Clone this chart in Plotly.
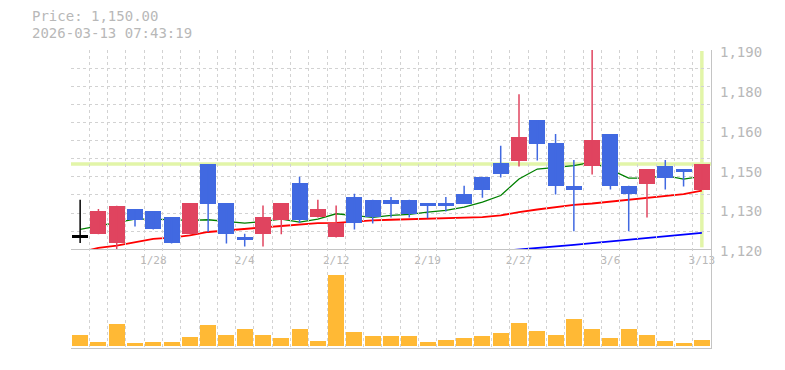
import plotly.graph_objects as go

# ---------------- data ----------------
dates = ["2026-01-22", "2026-01-23", "2026-01-26", "2026-01-27", "2026-01-28",
         "2026-01-29", "2026-01-30", "2026-02-02", "2026-02-03", "2026-02-04",
         "2026-02-05", "2026-02-06", "2026-02-09", "2026-02-10", "2026-02-12",
         "2026-02-13", "2026-02-16", "2026-02-17", "2026-02-18", "2026-02-19",
         "2026-02-20", "2026-02-24", "2026-02-25", "2026-02-26", "2026-02-27",
         "2026-03-02", "2026-03-03", "2026-03-04", "2026-03-05", "2026-03-06",
         "2026-03-09", "2026-03-10", "2026-03-11", "2026-03-12", "2026-03-13"]

open_ = [1124.3, 1125.3, 1122.1, 1134.2, 1133.5, 1131.4, 1125.3, 1150.0, 1136.3, 1124.4,
         1125.3, 1130.2, 1143.3, 1131.2, 1124.2, 1138.4, 1137.4, 1137.4, 1137.4, 1136.3,
         1136.3, 1139.5, 1145.5, 1150.3, 1151.2, 1165.4, 1157.3, 1142.3, 1149.1, 1160.5,
         1142.3, 1143.1, 1149.3, 1148.2, 1141.0]
high = [1137.4, 1134.2, 1135.3, 1134.2, 1133.5, 1131.4, 1136.3, 1150.0, 1136.3, 1125.5,
        1135.4, 1136.3, 1145.5, 1137.4, 1135.4, 1139.5, 1137.4, 1138.4, 1137.4, 1136.3,
        1138.4, 1142.3, 1145.5, 1156.4, 1174.5, 1165.4, 1160.5, 1151.4, 1190.0, 1160.5,
        1142.3, 1148.2, 1151.4, 1148.2, 1150.0]
low = [1122.2, 1125.3, 1120.0, 1128.0, 1127.0, 1122.1, 1125.3, 1126.1, 1122.1, 1121.0,
       1121.0, 1125.3, 1129.3, 1131.2, 1124.2, 1127.0, 1129.1, 1131.2, 1131.2, 1130.9,
       1133.3, 1136.1, 1138.1, 1145.2, 1149.1, 1151.2, 1139.3, 1126.4, 1146.3, 1141.0,
       1126.4, 1131.2, 1141.0, 1142.1, 1141.0]
close = [1124.3, 1133.5, 1135.3, 1130.2, 1127.0, 1122.1, 1136.3, 1136.1, 1125.3, 1123.2,
         1131.4, 1136.3, 1130.2, 1134.2, 1129.3, 1129.1, 1131.2, 1136.1, 1132.3, 1135.1,
         1135.1, 1136.1, 1141.0, 1146.3, 1159.4, 1157.1, 1142.1, 1141.0, 1158.4, 1142.1,
         1139.3, 1148.2, 1145.2, 1147.3, 1150.0]

volume = [11, 4, 22, 3, 4, 4, 9, 21, 11, 17,
          11, 8, 17, 5, 71, 14, 10, 10, 10, 4,
          6, 8, 10, 13, 23, 15, 11, 27, 17, 8,
          17, 11, 5, 3, 6]

ma_short = [1127.0, 1128.2, 1129.2, 1130.6, 1130.6, 1130.4, 1130.2, 1130.4, 1129.8, 1129.2,
            1129.8, 1130.6, 1129.6, 1130.6, 1132.5, 1131.9, 1131.2, 1131.9, 1132.3, 1133.1,
            1133.7, 1134.8, 1136.6, 1138.9, 1144.7, 1148.2, 1148.8, 1149.4, 1150.6, 1148.0,
            1145.0, 1145.0, 1145.9, 1144.7, 1145.6]
ma_mid = [1119.0, 1120.5, 1121.3, 1122.6, 1123.7, 1124.1, 1124.9, 1126.1, 1126.7, 1127.1,
          1127.7, 1128.2, 1128.6, 1129.2, 1129.3, 1129.8, 1130.2, 1130.4, 1130.6, 1130.8,
          1130.8, 1131.0, 1131.3, 1131.9, 1133.1, 1134.0, 1134.8, 1135.6, 1136.1, 1136.8,
          1137.5, 1138.0, 1138.7, 1139.4, 1140.6]
ma_long = [None] * 23 + [1119.4, 1119.9, 1120.4, 1121.0, 1121.6, 1122.2, 1122.8,
                         1123.4, 1124.0, 1124.4, 1125.1, 1125.8]

tick_dates = ["2026-01-28", "2026-02-04", "2026-02-12", "2026-02-19",
              "2026-02-27", "2026-03-06", "2026-03-13"]
tick_labels = ["1/28", "2/4", "2/12", "2/19", "2/27", "3/6", "3/13"]

price_tick_vals = [1120, 1134, 1148, 1162, 1176, 1190]
price_tick_text = ["1,120", "1,130", "1,150", "1,160", "1,180", "1,190"]
price_range = [1120, 1190]
timestamp = "2026-03-13 07:43:19"

# ---------------- styles ----------------
UP = "#E0445F"
DOWN = "#4169E1"
EVEN = "#000000"
VOL = "#FFB935"
CUR = "#E2F5A8"
GRID = "#d2d2d2"
AXIS = "#c4c4c4"
TXT = "#b8b8b8"
FONT = "DejaVu Sans Mono"

colors = []
for o, c in zip(open_, close):
    colors.append(UP if c > o else (DOWN if c < o else EVEN))

body_base = [min(o, c) for o, c in zip(open_, close)]
body_h = [max(abs(c - o), 0.6) for o, c in zip(open_, close)]

fig = go.Figure()

# full-height helper subplot that only carries the vertical grid
fig.add_trace(go.Scatter(x=dates, y=[None] * len(dates), mode="lines",
                         xaxis="x", yaxis="y4", hoverinfo="skip"))

# moving averages (base subplot, beneath candles)
fig.add_trace(go.Scatter(x=dates, y=ma_short, mode="lines", line=dict(color="#008000", width=1.3),
                         xaxis="x", yaxis="y", hoverinfo="skip"))
fig.add_trace(go.Scatter(x=dates, y=ma_mid, mode="lines", line=dict(color="#FF0000", width=1.8),
                         xaxis="x", yaxis="y", hoverinfo="skip"))
fig.add_trace(go.Scatter(x=dates, y=ma_long, mode="lines", line=dict(color="#0000FF", width=1.8),
                         xaxis="x", yaxis="y", hoverinfo="skip"))

# candle bodies (overlay subplot, on top of MAs)
fig.add_trace(go.Bar(x=dates, y=body_h, base=body_base, width=0.875,
                     marker=dict(color=colors, line=dict(width=0)),
                     xaxis="x", yaxis="y3", hoverinfo="skip"))

# wicks grouped by colour
for col in (UP, DOWN, EVEN):
    wx, wy = [], []
    for d, h, l, c in zip(dates, high, low, colors):
        if c == col:
            wx += [d, d, None]
            wy += [l, h, None]
    if wx:
        fig.add_trace(go.Scatter(x=wx, y=wy, mode="lines", line=dict(color=col, width=1.5),
                                 xaxis="x", yaxis="y3", hoverinfo="skip", connectgaps=False))

# volume
fig.add_trace(go.Bar(x=dates, y=volume, width=0.875, marker=dict(color=VOL, line=dict(width=0)),
                     xaxis="x2", yaxis="y2", hoverinfo="skip"))

ticktext_all = [tick_labels[tick_dates.index(d)] if d in tick_dates else "" for d in dates]
grid_vals = [price_range[0] + k * (price_range[1] - price_range[0]) / 11 for k in range(12)]

price_dom = [0.331, 1.0]
vol_dom = [0.0, 0.331]
x_range = [-0.5, len(dates) - 0.5]

fig.update_layout(
    width=785, height=370,
    margin=dict(l=71, r=74, t=50, b=20),
    paper_bgcolor="white", plot_bgcolor="rgba(0,0,0,0)",
    showlegend=False,
    bargap=0,
    xaxis=dict(domain=[0, 1], anchor="y", type="category",
               categoryorder="array", categoryarray=dates,
               range=x_range,
               tickmode="array", tickvals=dates, ticktext=ticktext_all,
               tickson="boundaries", ticks="", tickangle=0,
               showgrid=True, gridcolor=GRID, gridwidth=1, griddash="3px,3px",
               showline=True, linecolor=AXIS, linewidth=1, zeroline=False,
               tickfont=dict(family=FONT, size=11, color=TXT)),
    yaxis=dict(domain=price_dom, anchor="x", range=price_range, side="right",
               tickmode="array", tickvals=grid_vals, showticklabels=False, ticks="",
               showgrid=True, gridcolor=GRID, gridwidth=1, griddash="3px,3px",
               showline=True, linecolor=AXIS, linewidth=1, zeroline=False),
    yaxis3=dict(overlaying="y", anchor="x", range=price_range, side="right",
                tickmode="array", tickvals=price_tick_vals, ticktext=price_tick_text,
                ticks="", ticklabelstandoff=8, ticklabelshift=2,
                showgrid=False, showline=False, zeroline=False,
                tickfont=dict(family=FONT, size=14, color=TXT)),
    yaxis4=dict(domain=[0, 1], anchor="x", range=[0, 1], side="left",
                showgrid=False, showticklabels=False, ticks="", showline=False, zeroline=False),
    xaxis2=dict(domain=[0, 1], anchor="y2", type="category",
                categoryorder="array", categoryarray=dates,
                range=x_range, showticklabels=False, ticks="",
                showgrid=False,
                showline=True, linecolor=AXIS, linewidth=1, zeroline=False),
    yaxis2=dict(domain=vol_dom, anchor="x2", range=[-2, 97.3], side="right",
                showgrid=False, showticklabels=False, ticks="",
                showline=True, linecolor=AXIS, linewidth=1, zeroline=False),
    shapes=[
        dict(type="line", xref="x domain", x0=0, x1=1, yref="y", y0=close[-1], y1=close[-1],
             line=dict(color=CUR, width=3.5), layer="below"),
        dict(type="line", xref="x", x0=dates[-1], x1=dates[-1], yref="y domain", y0=0.01, y1=0.995,
             line=dict(color=CUR, width=3.5), layer="below"),
    ],
    annotations=[
        dict(xref="paper", yref="paper", x=-41 / 640, y=(350 - 16) / 300, xanchor="left",
             yanchor="middle", showarrow=False, text=f"Price: {close[-1]:,.2f}",
             font=dict(family=FONT, size=14, color=TXT)),
        dict(xref="paper", yref="paper", x=-41 / 640, y=(350 - 33) / 300, xanchor="left",
             yanchor="middle", showarrow=False, text=timestamp,
             font=dict(family=FONT, size=14, color=TXT)),
    ],
)

fig.write_html("out.html", config={"displayModeBar": False})
